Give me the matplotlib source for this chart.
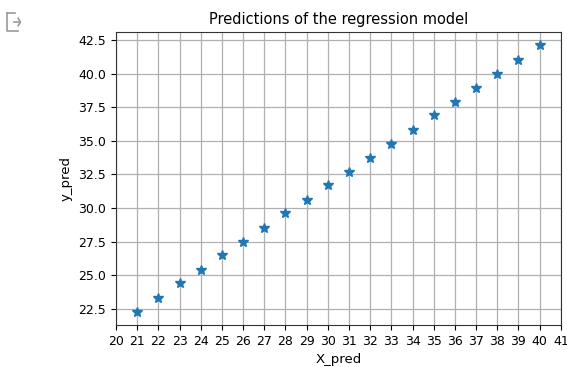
import matplotlib
matplotlib.use("Agg")
import matplotlib.pyplot as plt
from matplotlib.lines import Line2D

# inputs and model predictions
X_pred = [21, 22, 23, 24, 25, 26, 27, 28, 29, 30,
          31, 32, 33, 34, 35, 36, 37, 38, 39, 40]
y_pred = [22.3, 23.3, 24.4, 25.4, 26.5, 27.5, 28.5, 29.6, 30.6, 31.7,
          32.7, 33.7, 34.8, 35.8, 36.9, 37.9, 38.9, 40.0, 41.0, 42.1]
x_ticks = list(range(20, 42))


def main():
    fig = plt.figure(figsize=(5.67, 3.67), dpi=100)
    ax = fig.add_axes([0.2046, 0.1144, 0.7844, 0.7984])

    ax.plot(X_pred, y_pred, '*', color='#1f77b4', markersize=7)
    ax.set_title('Predictions of the regression model', fontsize=10.5)
    ax.set_xlabel('X_pred', fontsize=9.5)
    ax.set_ylabel('y_pred', fontsize=9.5)
    ax.set_xticks(x_ticks)
    ax.set_xlim(20, 41)
    ax.tick_params(axis='both', labelsize=9)
    ax.grid(True, color='#b0b0b0', linewidth=0.9)
    for spine in ax.spines.values():
        spine.set_color('#333333')

    # notebook output marker in the corner
    icon = dict(color='#9a9a9a', linewidth=1.2, transform=fig.transFigure)
    fig.add_artist(Line2D([0.013, 0.013, 0.032], [0.965, 0.915, 0.915], **icon))
    fig.add_artist(Line2D([0.013, 0.027], [0.965, 0.965], **icon))
    fig.add_artist(Line2D([0.024, 0.036], [0.94, 0.94], **icon))
    fig.add_artist(Line2D([0.032, 0.036, 0.032], [0.95, 0.94, 0.93], **icon))

    fig.savefig('out.png', dpi=100)


if __name__ == "__main__":
    main()
